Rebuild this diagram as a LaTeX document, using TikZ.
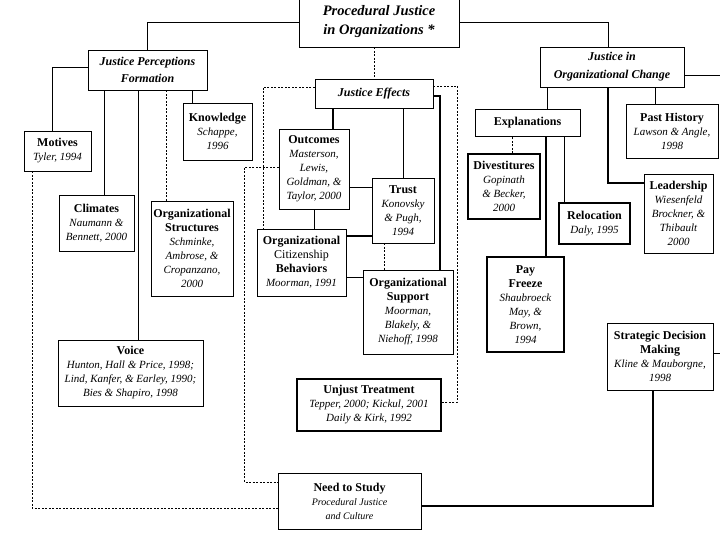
\documentclass[tikz,border=0pt]{standalone}
\usepackage{fontspec}
\setmainfont{Liberation Serif}
\newcommand\BxT[1]{{\fontsize{12}{14}\selectfont\bfseries #1}}
\newcommand\BxR[1]{{\fontsize{11}{14}\selectfont\itshape #1}}
\newcommand\BxS[1]{{\fontsize{10}{16}\selectfont\itshape #1}}
\newcommand\BxH[1]{{\fontsize{12}{17}\selectfont\bfseries\itshape #1}}
\begin{document}
\begin{tikzpicture}[x=1pt,y=-1pt,
  box/.style={draw, line width=0.9pt, fill=white, inner sep=1pt, align=center, font=\fontsize{11}{14}\selectfont},
  conn/.style={line width=0.6pt},
  heavy/.style={line width=1.5pt},
  dconn/.style={line width=0.6pt, dash pattern=on 2pt off 1.5pt}]
\useasboundingbox (0,0) rectangle (720,540);
\fill[white] (0,0) rectangle (720,540);

% nodes
\node[box, minimum width=160pt, minimum height=50pt] (top) at (379,22) {{\fontsize{14.5}{19}\selectfont\bfseries\itshape Procedural Justice}\\[5pt]{\fontsize{14.5}{19}\selectfont\bfseries\itshape in Organizations *}};
\node[box, minimum width=119pt, minimum height=40pt] (jpf) at (147.5,70) {\BxH{Justice Perceptions}\\[3pt]\BxH{Formation}};
\node[box, minimum width=67pt, minimum height=40pt] (mot) at (57.5,151) {\BxT{Motives}\\\BxR{Tyler, 1994}};
\node[box, minimum width=69pt, minimum height=57pt] (know) at (217.5,131.5) {\BxT{Knowledge}\\\BxR{Schappe,}\\\BxR{1996}};
\node[box, minimum width=118pt, minimum height=29pt] (je) at (374,93.5) {\BxH{Justice Effects}};
\node[box, minimum width=144pt, minimum height=40pt] (joc) at (612,67) {\BxH{Justice in}\\[4pt]\BxH{Organizational Change}};
\node[box, minimum width=105pt, minimum height=27pt] (expl) at (527.5,122.5) {\BxT{Explanations}};
\node[box, minimum width=92pt, minimum height=54pt] (ph) at (672,131) {\BxT{Past History}\\\BxR{Lawson \& Angle,}\\\BxR{1998}};
\node[box, line width=1.2pt, minimum width=72pt, minimum height=65pt] (div) at (504,186.5) {\BxT{Divestitures}\\\BxR{Gopinath}\\\BxR{\& Becker,}\\\BxR{2000}};
\node[box, minimum width=69pt, minimum height=79pt] (lead) at (678.5,213.5) {\BxT{Leadership}\\\BxR{Wiesenfeld}\\\BxR{Brockner, \&}\\\BxR{Thibault}\\\BxR{2000}};
\node[box, line width=1.3pt, minimum width=71pt, minimum height=41pt] (reloc) at (594.5,223.5) {\BxT{Relocation}\\\BxR{Daly, 1995}};
\node[box, line width=1.3pt, minimum width=77pt, minimum height=95pt] (pf) at (525.5,304.5) {\BxT{Pay}\\\BxT{Freeze}\\\BxR{Shaubroeck}\\\BxR{May, \&}\\\BxR{Brown,}\\\BxR{1994}};
\node[box, minimum width=106pt, minimum height=67pt] (sdm) at (660,356.5) {\BxT{Strategic Decision}\\\BxT{Making}\\\BxR{Kline \& Mauborgne,}\\\BxR{1998}};
\node[box, minimum width=70pt, minimum height=80pt] (out) at (314,169) {\BxT{Outcomes}\\\BxR{Masterson,}\\\BxR{Lewis,}\\\BxR{Goldman, \&}\\\BxR{Taylor, 2000}};
\node[box, minimum width=62pt, minimum height=65pt] (trust) at (403,210.5) {\BxT{Trust}\\\BxR{Konovsky}\\\BxR{\& Pugh,}\\\BxR{1994}};
\node[box, minimum width=89pt, minimum height=67pt] (ocb) at (301.5,262.5) {\BxT{Organizational}\\{\fontsize{12}{14}\selectfont Citizenship}\\\BxT{Behaviors}\\\BxR{Moorman, 1991}};
\node[box, minimum width=90pt, minimum height=84pt] (os) at (408,312) {\BxT{Organizational}\\\BxT{Support}\\\BxR{Moorman,}\\\BxR{Blakely, \&}\\\BxR{Niehoff, 1998}};
\node[box, minimum width=75pt, minimum height=56pt] (clim) at (96.5,223) {\BxT{Climates}\\\BxR{Naumann \&}\\\BxR{Bennett, 2000}};
\node[box, minimum width=82pt, minimum height=95pt] (ostr) at (192,248.5) {\BxT{Organizational}\\\BxT{Structures}\\\BxR{Schminke,}\\\BxR{Ambrose, \&}\\\BxR{Cropanzano,}\\\BxR{2000}};
\node[box, minimum width=145pt, minimum height=66pt] (voice) at (130.5,373) {\BxT{Voice}\\\BxR{Hunton, Hall \& Price, 1998;}\\\BxR{Lind, Kanfer, \& Earley, 1990;}\\\BxR{Bies \& Shapiro, 1998}};
\node[box, line width=1.3pt, minimum width=144pt, minimum height=52pt] (unj) at (369,405) {\BxT{Unjust Treatment}\\\BxR{Tepper, 2000; Kickul, 2001}\\\BxR{Daily \& Kirk, 1992}};
\node[box, minimum width=143pt, minimum height=56pt] (need) at (349.5,501) {\BxT{Need to Study}\\\BxS{Procedural Justice}\\\BxS{and Culture}};

% connectors
\draw[conn] (top.west) -| (jpf.north);
\draw[conn] (top.east) -| ([xshift=-4pt]joc.north);
\draw[dconn] (je.north |- top.south) -- (je.north);
\draw[conn] ([yshift=3pt]jpf.west) -| ([xshift=-5pt]mot.north);
\draw[conn] ([xshift=7.5pt]clim.north) -- ([xshift=7.5pt]clim.north |- jpf.south);
\draw[conn] ([xshift=7.5pt]voice.north) -- ([xshift=7.5pt]voice.north |- jpf.south);
\draw[dconn] ([xshift=-26pt]ostr.north) -- ([xshift=-26pt]ostr.north |- jpf.south);
\draw[conn] ([xshift=-25.5pt]know.north) -- ([xshift=-25.5pt]know.north |- jpf.south);
\draw[dconn] ([xshift=-25.5pt]mot.south) |- ([yshift=-7pt]need.west);
\draw[dconn] ([yshift=2pt]out.west) -- ++(-34,0) |- ([yshift=19pt]need.west);
\draw[dconn] ([yshift=6.5pt]je.west) -| ([xshift=-38.5pt]ocb.north);
\draw[heavy] ([xshift=19pt]out.north) -- ([xshift=19pt]out.north |- je.south);
\draw[conn] (trust.north) -- (trust.north |- je.south);
\draw[heavy] ([yshift=-2.5pt]je.east) -| ([xshift=32pt]os.north);
\draw[dconn] ([yshift=7.5pt]je.east) -- ++(24,0) |- ([yshift=3pt]unj.east);
\draw[conn] ([yshift=-18pt]out.east) -- ([yshift=-18pt]out.east -| trust.west);
\draw[conn] (out.south) -- (out.south |- ocb.north);
\draw[heavy] ([yshift=26.5pt]ocb.east) -- ([yshift=26.5pt]ocb.east -| trust.west);
\draw[conn] ([yshift=-14.5pt]ocb.east) -- ([yshift=-14.5pt]ocb.east -| os.west);
\draw[dconn] ([xshift=-19pt]trust.south) -- ([xshift=-19pt]trust.south |- os.north);
\draw[conn] ([xshift=19.5pt]expl.north) -- ([xshift=19.5pt]expl.north |- joc.south);
\draw[heavy] ([xshift=-4pt]joc.south) |- ([yshift=30.5pt]lead.west);
\draw[conn] ([xshift=-17pt]ph.north) -- ([xshift=-17pt]ph.north |- joc.south);
\draw[dconn] ([xshift=8pt]div.north) -- ([xshift=8pt]div.north |- expl.south);
\draw[heavy] ([xshift=20.5pt]pf.north) -- ([xshift=20.5pt]pf.north |- expl.south);
\draw[conn] ([xshift=-30.5pt]reloc.north) -- ([xshift=-30.5pt]reloc.north |- expl.south);
\draw[heavy] ([xshift=-7pt]sdm.south) |- ([yshift=-5pt]need.east);
\draw[conn] ([yshift=-8pt]joc.east) -- ++(35.5,0) |- ([yshift=3.5pt]sdm.east);
\end{tikzpicture}
\end{document}
